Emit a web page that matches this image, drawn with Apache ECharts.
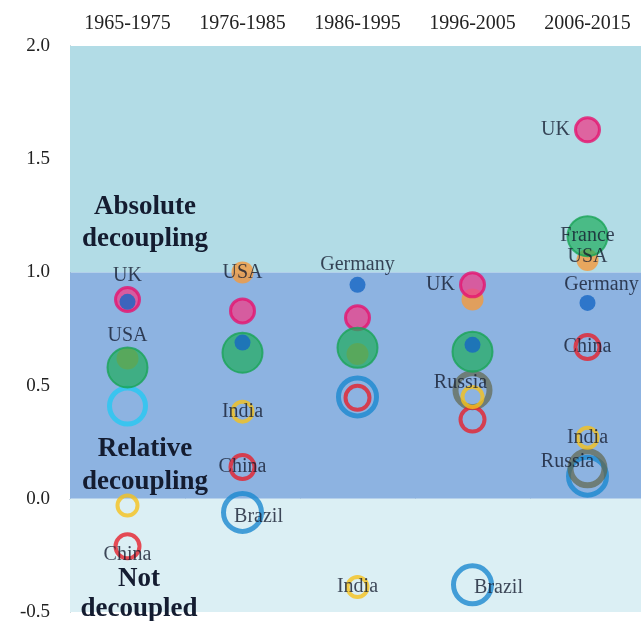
<!DOCTYPE html>
<html>
<head>
<meta charset="utf-8">
<script src="https://cdn.jsdelivr.net/npm/echarts@6/dist/echarts.min.js"></script>
<style>
html,body{margin:0;padding:0;background:#fff}
#main{width:641px;height:621px}
</style>
</head>
<body>
<div id="main"></div>
<script>
// decoupling index per decade
var periods = ['1965-1975', '1976-1985', '1986-1995', '1996-2005', '2006-2015'];
var yTicks  = [-0.5, 0.0, 0.5, 1.0, 1.5, 2.0];

var uk      = [0.88, 0.83, 0.80, 0.945, 1.63];
var usa     = [0.62, 1.00, 0.64, 0.88, 1.055];
var germany = [0.87, 0.69, 0.945, 0.68, 0.865];
var france  = [0.58, 0.645, 0.667, 0.65, 1.16];
var russia  = [null, null, null, 0.48, 0.135];
var india   = [-0.03, 0.385, -0.39, 0.45, 0.27];
var china   = [-0.21, 0.14, 0.446, 0.35, 0.67];
var brazil  = [null, -0.06, 0.45, -0.38, 0.10];
var other   = [0.41, null, null, null, null];

var serif = '"Liberation Serif", "Times New Roman", serif';
var ink = '#141c30';

// where each country name is written (index -> placement)
var labelAt = {
    'UK':      {0: {position: 'top', distance: 0}, 3: {position: 'left', distance: 4}, 4: {position: 'left', distance: 4}},
    'USA':     {0: {position: 'top', distance: 2}, 1: {position: 'inside'}, 4: {position: 'inside', offset: [0, -3]}},
    'Germany': {2: {position: 'top', distance: 2}, 4: {position: 'top', distance: 0, offset: [14, 0]}},
    'France':  {4: {position: 'inside', offset: [0, 0]}},
    'Russia':  {3: {position: 'inside', offset: [-12, -7]}, 4: {position: 'inside', offset: [-20, -6]}},
    'India':   {1: {position: 'inside'}, 2: {position: 'inside'}, 4: {position: 'inside'}},
    'China':   {0: {position: 'inside', offset: [0, 8]}, 1: {position: 'inside'}, 4: {position: 'inside'}},
    'Brazil':  {1: {position: 'inside', offset: [16, 4]}, 3: {position: 'inside', offset: [26, 3]}}
};

function makeSeries(name, values, size, style, z) {
    var data = [];
    values.forEach(function (v, i) {
        if (v == null) return;
        var item = {value: [i, v]};
        var lab = labelAt[name] && labelAt[name][i];
        if (lab) {
            item.label = Object.assign({show: true, formatter: name, color: ink, textBorderWidth: 0}, lab);
        }
        data.push(item);
    });
    return {
        name: name,
        type: 'scatter',
        z: z,
        symbol: 'circle',
        symbolSize: size,
        itemStyle: style,
        label: {show: false, fontFamily: serif, fontSize: 20, color: ink},
        emphasis: {disabled: true},
        data: data
    };
}

function ring(color, width) {
    return {color: 'rgba(0,0,0,0)', borderColor: color, borderWidth: width};
}

var series = [
    {
        type: 'scatter', data: [], z: 1, silent: true,
        markArea: {
            silent: true,
            data: [
                [{yAxis: 1, itemStyle: {color: '#b2dce6'}}, {yAxis: 2}],
                [{yAxis: 0, itemStyle: {color: '#8db3e1'}}, {yAxis: 1}],
                [{yAxis: -0.5, itemStyle: {color: '#dbeff4'}}, {yAxis: 0}]
            ]
        }
    },
    makeSeries('Other', other, 36, ring('#25c8f2', 5), 2),
    makeSeries('Brazil', brazil, 38, ring('#1b88cf', 5), 2),
    makeSeries('Russia', russia, 34, ring('rgba(95,100,70,0.85)', 6), 2),
    makeSeries('China', china, 24, ring('#e6202c', 4), 2),
    makeSeries('India', india, 20, ring('#f6c21c', 4), 2),
    makeSeries('USA', usa, 22, {color: '#f59a3c'}, 2),
    makeSeries('UK', uk, 24, {color: '#e8468e', borderColor: '#e5146f', borderWidth: 3}, 2),
    makeSeries('France', france, 40, {color: 'rgba(30,172,92,0.88)', borderColor: '#1aa457', borderWidth: 2}, 2),
    makeSeries('Germany', germany, 16, {color: '#1667c4'}, 2)
];

var bandFont = 'bold 27px ' + serif;

var option = {
    animation: false,
    backgroundColor: '#ffffff',
    grid: {left: 70, width: 575, top: 46, bottom: 9, containLabel: false, outerBoundsMode: 'none'},
    xAxis: {
        type: 'category',
        position: 'top',
        data: periods,
        boundaryGap: true,
        axisLine: {lineStyle: {color: '#8fa4ad', width: 1}},
        axisTick: {show: true, length: 5, lineStyle: {color: '#8fa4ad'}},
        axisLabel: {fontFamily: serif, fontSize: 20, color: '#222', margin: 12},
        splitLine: {show: false}
    },
    yAxis: {
        type: 'value',
        min: yTicks[0],
        max: yTicks[yTicks.length - 1],
        interval: 0.5,
        axisLine: {show: true, lineStyle: {color: '#8fa4ad', width: 1}},
        axisTick: {show: false},
        splitLine: {show: false},
        axisLabel: {
            fontFamily: serif, fontSize: 19, color: '#222', margin: 20,
            formatter: function (v) { return v.toFixed(1); }
        }
    },
    graphic: [
        {type: 'text', z: 10, x: 145, y: 191,
         style: {text: 'Absolute\ndecoupling', font: bandFont, fill: ink, align: 'center', verticalAlign: 'top', lineHeight: 32}},
        {type: 'text', z: 10, x: 145, y: 433,
         style: {text: 'Relative\ndecoupling', font: bandFont, fill: ink, align: 'center', verticalAlign: 'top', lineHeight: 33}},
        {type: 'text', z: 10, x: 139, y: 564,
         style: {text: 'Not\ndecoupled', font: bandFont, fill: ink, align: 'center', verticalAlign: 'top', lineHeight: 30}}
    ],
    series: series
};

var myChart = echarts.init(document.getElementById('main'));
myChart.setOption(option);
</script>
</body>
</html>
